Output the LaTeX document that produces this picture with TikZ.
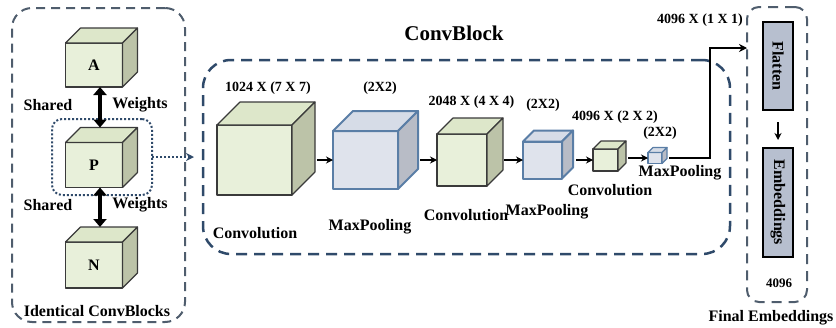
\documentclass[tikz,border=0pt]{standalone}
\usepackage{fontspec}
\setmainfont{Liberation Serif}
\usetikzlibrary{arrows.meta,calc}
\definecolor{gF}{HTML}{E8F0DA}
\definecolor{gT}{HTML}{DDE7CA}
\definecolor{gS}{HTML}{BCC3A8}
\definecolor{gE}{HTML}{3A3A3A}
\definecolor{bF}{HTML}{DFE3EC}
\definecolor{bT}{HTML}{D6DCE7}
\definecolor{bS}{HTML}{B8BCC6}
\definecolor{bE}{HTML}{5A7EA6}
\definecolor{navy}{HTML}{2F4A6A}
\definecolor{slate}{HTML}{4F5D6D}
\definecolor{fbox}{HTML}{B7BFCF}
\newcommand\myfs[1]{\fontsize{#1}{#1}\selectfont\bfseries}
\newcommand\mycube[8]{%
  \node[#7front, minimum width=#4pt, minimum height=#5pt] (#1) at (#2,#3) {#8};
  \filldraw[#7top] (#1.north west) -- ++(#6,-#6) -- ++(#4,0) -- (#1.north east) -- cycle;
  \filldraw[#7side] (#1.north east) -- ++(#6,-#6) -- ++(0,#5) -- (#1.south east) -- cycle;
}
\tikzset{
  gfront/.style={draw=gE, fill=gF, line width=1.1pt, line join=round, inner sep=0pt, outer sep=0pt, font=\myfs{16}},
  gtop/.style={draw=gE, fill=gT, line width=1.1pt, line join=round},
  gside/.style={draw=gE, fill=gS, line width=1.1pt, line join=round},
  bfront/.style={draw=bE, fill=bF, line width=2pt, line join=round, inner sep=0pt, outer sep=0pt},
  btop/.style={draw=bE, fill=bT, line width=2pt, line join=round},
  bside/.style={draw=bE, fill=bS, line width=2pt, line join=round},
  sfront/.style={bfront, line width=1.2pt},
  stop/.style={btop, line width=1.2pt},
  sside/.style={bside, line width=1.2pt},
  lbl/.style={font=\myfs{14}, inner sep=0pt},
  txt/.style={font=\myfs{16}, inner sep=0pt},
  box/.style={inner sep=0pt, outer sep=0pt},
  flow/.style={line width=1.8pt, -{Stealth[length=7pt,width=7pt]}},
  dbl/.style={line width=4pt, {Triangle[length=8pt,width=13pt]}-{Triangle[length=8pt,width=13pt]}},
  fbx/.style={draw=black, fill=fbox, line width=2pt, inner sep=0pt, outer sep=0pt, font=\myfs{16}},
}
\begin{document}
\begin{tikzpicture}[x=1pt,y=-1pt]
\useasboundingbox (0,0) rectangle (836,327);
% containers
\node[box, draw=slate, line width=2pt, dash pattern=on 9pt off 6pt, rounded corners=20pt,
      minimum width=173pt, minimum height=314pt] (lb) at (98.5,165) {};
\node[box, draw=navy, line width=2.5pt, dash pattern=on 11pt off 7pt, rounded corners=28pt,
      minimum width=527pt, minimum height=194pt] (cb) at (466.5,157) {};
\node[box, draw=slate, line width=2pt, dash pattern=on 10pt off 7pt, rounded corners=12pt,
      minimum width=60pt, minimum height=295pt] (fb) at (777,154.5) {};
\node[box, draw=navy, line width=2pt, dotted, rounded corners=10pt,
      minimum width=100pt, minimum height=76pt] (pb) at (102,157) {};
% left cubes
\mycube{A}{94}{65}{57}{44}{15}{g}{A}
\mycube{P}{94}{165}{57}{45}{15}{g}{P}
\mycube{N}{94}{265}{57}{46}{15}{g}{N}
\draw[dbl] ([xshift=6pt]A.south) -- ([xshift=6pt,yshift=15pt]P.north);
\draw[dbl] ([xshift=6pt]P.south) -- ([xshift=6pt,yshift=15pt]N.north);
\node[txt] (s1) at (48,105) {Shared};
\node[txt] (w1) at (140,105) {Weights};
\node[txt] (s2) at (48,205) {Shared};
\node[txt] (w2) at (140,205) {Weights};
\node[txt] (ic) at (97,311) {Identical ConvBlocks};
\draw[navy, line width=2pt, dotted, -{Stealth[length=8pt,width=8pt]}] (pb.east) -- ([xshift=-9pt]cb.west);
% conv block
\node[font=\myfs{21}, inner sep=0pt] (title) at (454,33) {ConvBlock};
\mycube{c1}{254.5}{160}{75}{70}{23}{g}{}
\mycube{m1}{365.5}{160}{65}{58}{20}{b}{}
\mycube{c2}{462}{160}{50}{52}{16}{g}{}
\mycube{m2}{542.5}{160}{39}{37}{11}{b}{}
\mycube{c3}{605.5}{160}{25}{22}{8}{g}{}
\mycube{m3}{655}{158}{14}{11}{5}{s}{}
\draw[flow] ([xshift=25pt]c1.east) -- (m1.west);
\draw[flow] ([xshift=22pt]m1.east) -- (c2.west);
\draw[flow] ([xshift=17pt]c2.east) -- (m2.west);
\draw[flow] ([xshift=14pt]m2.east) -- (c3.west);
\draw[flow] ([xshift=10pt]c3.east |- m3.east) -- (m3.west);
\node[lbl] (l1) at (268,88) {1024 X (7 X 7)};
\node[lbl] (l2) at (380,88) {(2X2)};
\node[lbl] (l3) at (471.5,102) {2048 X (4 X 4)};
\node[lbl] (l4) at (543,105) {(2X2)};
\node[lbl] (l5) at (615,117) {4096 X (2 X 2)};
\node[lbl] (l6) at (660,133) {(2X2)};
\node[txt] (t1) at (255,233) {Convolution};
\node[txt] (t2) at (370,227) {MaxPooling};
\node[txt] (t3) at (466,215) {Convolution};
\node[txt] (t4) at (547,212) {MaxPooling};
\node[txt] (t5) at (610,190) {Convolution};
\node[txt] (t6) at (680,173) {MaxPooling};
% final
\node[lbl] (l7) at (700,20) {4096 X (1 X 1)};
\coordinate (turn) at (710,48);
\draw[line width=2pt, -{Stealth[length=8pt,width=8pt]}] ([xshift=7pt]m3.east) -| (turn) -- (fb.west |- turn);
\node[fbx, minimum width=30pt, minimum height=88pt] (fl) at (778,66) {\rotatebox{-90}{Flatten}};
\node[fbx, minimum width=30pt, minimum height=109pt] (em) at (778,202.5) {\rotatebox{-90}{Embeddings}};
\draw[flow, shorten <=12pt, shorten >=8pt] (fl.south) -- (em.north);
\node[font=\myfs{13}, inner sep=0pt] (n4096) at (779,283) {4096};
\node[txt] (fe) at (771,318) {Final Embeddings};
\end{tikzpicture}
\end{document}
